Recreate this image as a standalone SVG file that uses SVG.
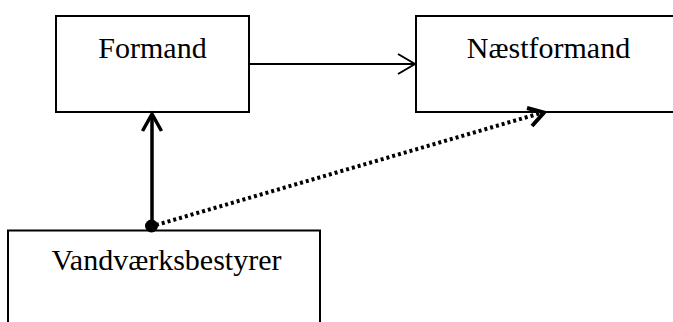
<svg xmlns="http://www.w3.org/2000/svg" width="673" height="322" viewBox="0 0 673 322">
<style>
.box{fill:#fff;stroke:#000;stroke-width:2}
.lbl{font-family:"Liberation Serif","Times New Roman",serif;font-size:30px;fill:#000;text-anchor:middle}
.ln{fill:none;stroke:#000}
</style>
<rect width="673" height="322" fill="#fff"/>
<g id="formand"><rect class="box" x="56" y="16" width="193" height="96"/><text class="lbl" x="152.5" y="57.5">Formand</text></g>
<g id="naestformand"><rect class="box" x="416" y="16" width="266" height="96"/><text class="lbl" x="548.5" y="57.5">Næstformand</text></g>
<g id="vandvaerksbestyrer"><rect class="box" x="8" y="230.5" width="312" height="100"/><text class="lbl" x="166.5" y="270">Vandværksbestyrer</text></g>
<g id="connectors">
<path class="ln" stroke-width="2" d="M249 64H415"/>
<path class="ln" stroke-width="2" d="M398 54L415 64L398 74"/>
<path class="ln" stroke-width="3.5" d="M152 226V114"/>
<path class="ln" stroke-width="3.5" stroke-linejoin="miter" d="M142.5 131L152 114L161.5 131"/>
<path class="ln" stroke-width="4" stroke-dasharray="3 3" d="M156 225L541 113"/>
<path class="ln" stroke-width="4" d="M527 108L544 112.5L532 126"/>
<circle cx="151.5" cy="226" r="6.5" fill="#000"/>
</g>
</svg>
